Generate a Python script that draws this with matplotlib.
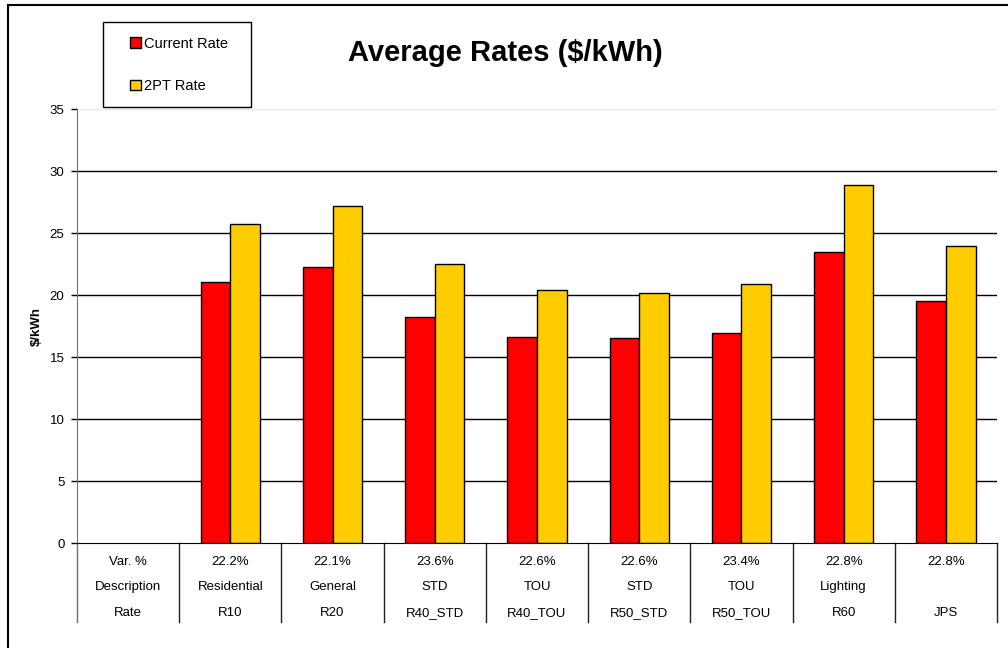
import matplotlib
matplotlib.use("Agg")
import matplotlib.pyplot as plt
import numpy as np
from matplotlib.lines import Line2D
from matplotlib.patches import Rectangle
import matplotlib.transforms as mtransforms

plt.rcParams['font.family'] = ['Liberation Sans', 'DejaVu Sans']

# rows of the category table under the bars
row_names = ['Var. %', 'Description', 'Rate']
var_pct = ['22.2%', '22.1%', '23.6%', '22.6%', '22.6%', '23.4%', '22.8%', '22.8%']
descr = ['Residential', 'General', 'STD', 'TOU', 'STD', 'TOU', 'Lighting', '']
rates = ['R10', 'R20', 'R40_STD', 'R40_TOU', 'R50_STD', 'R50_TOU', 'R60', 'JPS']

current_rate = [21.05, 22.23, 18.23, 16.6, 16.5, 16.96, 23.47, 19.5]
pt2_rate = [25.75, 27.15, 22.5, 20.38, 20.2, 20.92, 28.85, 23.93]

red = '#FF0000'
gold = '#FFCC00'

fig = plt.figure(figsize=(10.08, 6.48), dpi=100)
ax = fig.add_axes([77 / 1008, 105 / 648, 920 / 1008, 434 / 648])

x = np.arange(1, len(rates) + 1)
w = 0.29
ax.bar(x - w, current_rate, width=w, align='edge', color=red,
       edgecolor='black', linewidth=1, zorder=3, label='Current Rate')
ax.bar(x, pt2_rate, width=w, align='edge', color=gold,
       edgecolor='black', linewidth=1, zorder=3, label='2PT Rate')

ax.set_xlim(-0.5, len(rates) + 0.5)
ax.set_ylim(0, 35)
ax.set_yticks(np.arange(0, 36, 5))
ax.tick_params(axis='y', direction='out', length=4, width=1, pad=5,
               labelsize=9.5, colors='black')
ax.set_xticks([])

for yv in range(5, 35, 5):
    ax.axhline(yv, color='black', lw=1, zorder=1)
ax.axhline(35, color='#e6e6e6', lw=1, zorder=1)

for s in ['top', 'right']:
    ax.spines[s].set_visible(False)
ax.spines['left'].set_color('#707070')
ax.spines['bottom'].set_color('black')
ax.spines['bottom'].set_zorder(4)

ax.set_ylabel('$/kWh', fontsize=9.5, fontweight='bold', labelpad=5)

# category table: header column at x=0, one column per rate
trans = mtransforms.blended_transform_factory(ax.transData, ax.transAxes)
row_y = [-0.044, -0.101, -0.161]
table_bottom = -0.182
cols = [row_names] + [[v, d, r] for v, d, r in zip(var_pct, descr, rates)]
for i, col in enumerate(cols):
    for txt, yy in zip(col, row_y):
        ax.text(i, yy, txt, transform=trans, ha='center', va='center',
                fontsize=9.5, clip_on=False)
for b in np.arange(-0.5, len(rates) + 1, 1.0):
    c = '#707070' if b < 0 else '#222222'
    ax.plot([b, b], [0, table_bottom], transform=trans, color=c, lw=1,
            clip_on=False)

fig.text(505 / 1008, 1 - 53 / 648, 'Average Rates ($/kWh)', ha='center',
         va='center', fontsize=21, fontweight='bold')

# legend in a plain box
fig.add_artist(Rectangle((103 / 1008, 1 - 107 / 648), 148 / 1008, 85 / 648,
                         transform=fig.transFigure, facecolor='white',
                         edgecolor='black', lw=1, zorder=5))
fig.legend(loc='center left', bbox_to_anchor=(117 / 1008, 1 - 65 / 648),
           frameon=False, fontsize=10.5, handlelength=0.75, handleheight=0.75,
           handletextpad=0.2, labelspacing=1.95).set_zorder(6)

# outer chart border (left and top edges)
fig.add_artist(Line2D([8 / 1008, 8 / 1008], [0, 1 - 5 / 648], color='black',
                      lw=1.5, transform=fig.transFigure))
fig.add_artist(Line2D([8 / 1008, 1], [1 - 5 / 648, 1 - 5 / 648],
                      color='black', lw=1.5, transform=fig.transFigure))

fig.savefig('out.png', dpi=100)
